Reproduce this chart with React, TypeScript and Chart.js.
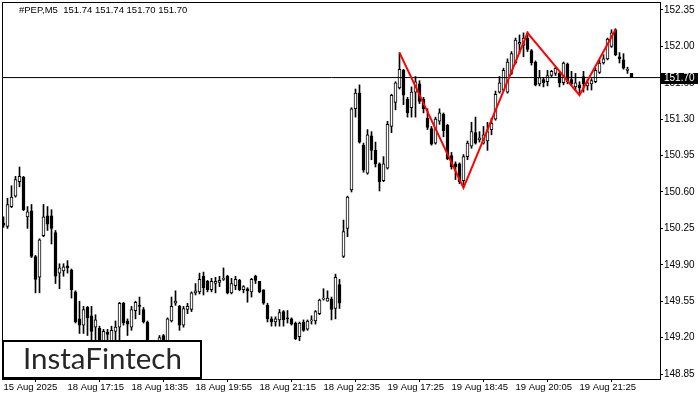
import React, { useEffect, useRef } from 'react';
import { Chart, registerables } from 'chart.js';

Chart.register(...registerables);

// ---- data (M5 candles) ----
const opens = [
  150.30, 150.27, 150.46, 150.56, 150.70, 150.74, 150.36, 150.42, 149.98, 149.78,
  150.18, 150.37, 150.37, 150.21, 149.82, 149.84, 149.89, 149.85, 149.64, 149.38,
  149.32, 149.49, 149.41, 149.30, 149.29, 149.10, 149.25, 149.12, 149.26, 149.30,
  149.53, 149.36, 149.30, 149.46, 149.51, 149.47, 149.35, 149.05, 149.02, 149.16,
  149.22, 149.15, 149.36, 149.53, 149.50, 149.32, 149.47, 149.47, 149.63, 149.64,
  149.79, 149.74, 149.66, 149.72, 149.73, 149.76, 149.79, 149.63, 149.70, 149.75,
  149.66, 149.67, 149.64, 149.79, 149.74, 149.66, 149.51, 149.38, 149.35, 149.37,
  149.45, 149.39, 149.38, 149.34, 149.21, 149.35, 149.28, 149.36, 149.36, 149.43,
  149.57, 149.55, 149.57, 149.48, 149.71, 149.98, 150.25, 150.62, 151.40, 151.55,
  151.05, 150.78, 151.14, 151.00, 150.87, 150.71, 150.83, 151.23, 151.46, 151.60,
  151.77, 151.49, 151.41, 151.56, 151.64, 151.49, 151.31, 151.21, 151.07, 151.28,
  151.35, 151.24, 150.95, 150.87, 150.87, 150.71, 150.94, 151.04, 151.17, 151.10,
  151.07, 151.09, 151.20, 151.30, 151.56, 151.58, 151.56, 151.74, 151.84, 152.02,
  152.01, 152.08, 151.96, 151.85, 151.64, 151.68, 151.66, 151.72, 151.74, 151.74,
  151.65, 151.83, 151.68, 151.61, 151.63, 151.71, 151.62, 151.64, 151.66, 151.75,
  151.84, 151.88, 152.00, 152.16, 151.90, 151.87, 151.77, 151.74,
];
const highs = [
  150.36, 150.54, 150.66, 150.75, 150.84, 150.75, 150.46, 150.48, 149.99, 150.15,
  150.48, 150.46, 150.43, 150.23, 149.91, 149.91, 149.94, 149.86, 149.65, 149.55,
  149.50, 149.50, 149.50, 149.42, 149.31, 149.28, 149.28, 149.31, 149.36, 149.54,
  149.54, 149.38, 149.50, 149.55, 149.59, 149.49, 149.36, 149.10, 149.08, 149.22,
  149.23, 149.39, 149.59, 149.65, 149.51, 149.50, 149.53, 149.64, 149.72, 149.82,
  149.83, 149.75, 149.77, 149.78, 149.79, 149.87, 149.80, 149.77, 149.79, 149.76,
  149.70, 149.68, 149.77, 149.80, 149.74, 149.66, 149.53, 149.40, 149.40, 149.47,
  149.46, 149.46, 149.39, 149.35, 149.35, 149.37, 149.37, 149.41, 149.46, 149.57,
  149.67, 149.65, 149.59, 149.81, 149.76, 150.33, 150.56, 151.41, 151.59, 151.63,
  151.07, 151.20, 151.18, 151.08, 150.88, 150.94, 151.28, 151.54, 151.66, 151.94,
  151.78, 151.51, 151.61, 151.71, 151.67, 151.51, 151.40, 151.23, 151.32, 151.40,
  151.36, 151.25, 150.98, 150.89, 150.88, 150.96, 151.09, 151.27, 151.32, 151.18,
  151.23, 151.27, 151.31, 151.57, 151.71, 151.79, 151.88, 151.95, 152.08, 152.11,
  152.13, 152.14, 151.97, 151.86, 151.77, 151.70, 151.77, 151.77, 151.80, 151.75,
  151.85, 151.84, 151.76, 151.74, 151.66, 151.76, 151.68, 151.69, 151.79, 151.87,
  151.92, 152.08, 152.16, 152.17, 151.94, 151.93, 151.80, 151.74,
];
const lows = [
  150.26, 150.25, 150.45, 150.55, 150.65, 150.42, 150.25, 149.97, 149.63, 149.63,
  150.17, 150.23, 150.10, 149.72, 149.67, 149.79, 149.82, 149.58, 149.34, 149.24,
  149.24, 149.22, 149.17, 149.17, 149.08, 149.06, 149.15, 149.10, 149.17, 149.18,
  149.32, 149.22, 149.27, 149.38, 149.42, 149.34, 149.02, 148.98, 148.96, 149.10,
  149.10, 149.12, 149.35, 149.51, 149.27, 149.30, 149.43, 149.45, 149.61, 149.62,
  149.61, 149.64, 149.64, 149.63, 149.69, 149.75, 149.62, 149.62, 149.66, 149.65,
  149.63, 149.54, 149.59, 149.72, 149.63, 149.52, 149.35, 149.31, 149.31, 149.31,
  149.31, 149.34, 149.32, 149.18, 149.17, 149.26, 149.27, 149.33, 149.33, 149.42,
  149.56, 149.55, 149.37, 149.38, 149.48, 149.97, 150.17, 150.60, 151.32, 151.07,
  150.79, 150.77, 150.91, 150.84, 150.61, 150.70, 150.82, 151.17, 151.39, 151.59,
  151.44, 151.32, 151.32, 151.32, 151.45, 151.36, 151.20, 151.05, 151.06, 151.25,
  151.13, 150.91, 150.82, 150.72, 150.68, 150.65, 150.91, 151.02, 151.06, 151.08,
  151.06, 151.00, 151.15, 151.29, 151.55, 151.57, 151.55, 151.73, 151.83, 151.93,
  151.90, 151.95, 151.82, 151.62, 151.62, 151.61, 151.62, 151.71, 151.72, 151.61,
  151.63, 151.64, 151.63, 151.58, 151.55, 151.56, 151.58, 151.58, 151.65, 151.74,
  151.83, 151.87, 151.99, 151.91, 151.84, 151.78, 151.74, 151.70,
];
const closes = [
  150.28, 150.48, 150.55, 150.72, 150.75, 150.43, 150.41, 149.98, 149.76, 150.14,
  150.36, 150.29, 150.25, 149.79, 149.87, 149.88, 149.87, 149.66, 149.35, 149.32,
  149.47, 149.39, 149.26, 149.37, 149.13, 149.26, 149.23, 149.27, 149.30, 149.53,
  149.34, 149.33, 149.47, 149.54, 149.50, 149.35, 149.05, 149.02, 149.06, 149.20,
  149.15, 149.38, 149.50, 149.55, 149.32, 149.48, 149.50, 149.63, 149.65, 149.76,
  149.68, 149.66, 149.74, 149.74, 149.75, 149.77, 149.63, 149.72, 149.76, 149.66,
  149.69, 149.65, 149.76, 149.75, 149.64, 149.53, 149.38, 149.35, 149.38, 149.44,
  149.37, 149.38, 149.33, 149.19, 149.34, 149.27, 149.36, 149.37, 149.45, 149.56,
  149.58, 149.58, 149.47, 149.78, 149.53, 150.22, 150.55, 151.40, 151.55, 151.08,
  150.81, 151.15, 151.00, 150.87, 150.70, 150.87, 151.25, 151.53, 151.65, 151.78,
  151.53, 151.36, 151.56, 151.66, 151.47, 151.40, 151.22, 151.06, 151.30, 151.36,
  151.19, 150.92, 150.84, 150.84, 150.70, 150.94, 151.07, 151.18, 151.07, 151.12,
  151.15, 151.18, 151.26, 151.54, 151.65, 151.77, 151.85, 151.93, 152.06, 152.04,
  152.08, 151.97, 151.84, 151.63, 151.70, 151.65, 151.72, 151.76, 151.79, 151.65,
  151.84, 151.66, 151.64, 151.65, 151.60, 151.64, 151.65, 151.67, 151.77, 151.84,
  151.88, 152.07, 152.13, 151.92, 151.88, 151.79, 151.78, 151.70,
];

const timeTickIndex = [0, 16, 32, 48, 64, 80, 96, 112, 128, 144];
const timeTickLabels = [
  '15 Aug 2025', '18 Aug 17:15', '18 Aug 18:35', '18 Aug 19:55', '18 Aug 21:15',
  '18 Aug 22:35', '19 Aug 17:25', '19 Aug 18:45', '19 Aug 20:05', '19 Aug 21:25',
];
const priceTicks = [148.85, 149.2, 149.55, 149.9, 150.25, 150.6, 150.95, 151.3, 151.65, 152.0, 152.35];

const patternIndex = [99, 115, 131, 144, 153];
const patternPrice = [151.94, 150.64, 152.13, 151.53, 152.16];

const lastPrice = 151.7;
const symbolTitle = '#PEP,M5  151.74 151.74 151.70 151.70';
const brandText = 'InstaFintech';

const X_MIN = -0.125;
const X_MAX = 164.125;
const Y_MIN = 148.802;
const Y_MAX = 152.417;

const FONT_FAMILY = '"Liberation Sans", Arial, sans-serif';

const overlayPlugin = {
  id: 'overlay',
  afterDraw(chart: any) {
    const { ctx, chartArea: a, scales } = chart;
    ctx.save();
    // plot frame
    ctx.strokeStyle = '#000';
    ctx.lineWidth = 1;
    ctx.strokeRect(a.left - 0.5, a.top - 0.5, a.right - a.left + 1, a.bottom - a.top + 1);

    // symbol title
    ctx.fillStyle = '#000';
    ctx.font = '9.5px ' + FONT_FAMILY;
    ctx.textBaseline = 'middle';
    ctx.textAlign = 'left';
    ctx.fillText(symbolTitle, 19, 10);

    // current price label
    const py = Math.round(scales.y.getPixelForValue(lastPrice));
    ctx.fillStyle = '#000';
    ctx.fillRect(a.right + 1, py - 5, 37, 11);
    ctx.fillStyle = '#fff';
    ctx.font = '10px ' + FONT_FAMILY;
    ctx.fillText(lastPrice.toFixed(2), a.right + 4, py + 0.5);

    // brand box
    ctx.fillStyle = '#fff';
    ctx.fillRect(3, 340, 198, 38);
    ctx.strokeStyle = '#000';
    ctx.lineWidth = 2;
    ctx.strokeRect(3, 341, 198, 37);
    ctx.font = '28px Lato';
    const w = ctx.measureText(brandText).width;
    const size = (28 * 159) / w;
    ctx.font = `${size}px Lato`;
    ctx.fillStyle = '#262626';
    ctx.textBaseline = 'alphabetic';
    ctx.fillText(brandText, 23, 369);
    ctx.restore();
  },
};

export default function App() {
  const canvasRef = useRef<HTMLCanvasElement | null>(null);

  useEffect(() => {
    document.body.style.margin = '0';
    const canvas = canvasRef.current;
    if (!canvas) return;

    const wicks = highs.map((h, i) => ({ x: i, y: [lows[i], h] }));
    const bodies = opens.map((o, i) => ({ x: i, y: [o, closes[i]] }));
    const bodyColors = opens.map((o, i) => (closes[i] >= o ? '#ffffff' : '#000000'));
    const pattern = patternIndex.map((x, i) => ({ x, y: patternPrice[i] }));
    const priceLine = [
      { x: X_MIN, y: lastPrice },
      { x: X_MAX, y: lastPrice },
    ];

    const chart = new Chart(canvas, {
      type: 'bar',
      data: {
        datasets: [
          {
            type: 'line',
            data: pattern,
            borderColor: '#ff0000',
            borderWidth: 2,
            pointRadius: 0,
            order: 0,
          } as any,
          {
            type: 'line',
            data: priceLine,
            borderColor: '#000000',
            borderWidth: 1,
            pointRadius: 0,
            order: 1,
          } as any,
          {
            type: 'bar',
            data: bodies,
            backgroundColor: bodyColors,
            borderColor: '#000000',
            borderWidth: 1,
            borderSkipped: false,
            barThickness: 3,
            grouped: false,
            minBarLength: 1,
            order: 2,
          } as any,
          {
            type: 'bar',
            data: wicks,
            backgroundColor: '#000000',
            borderWidth: 0,
            barThickness: 1,
            grouped: false,
            order: 3,
          } as any,
        ],
      },
      options: {
        responsive: false,
        animation: false,
        events: [],
        layout: { padding: { left: 3, top: 3, right: 0, bottom: 0 } },
        plugins: { legend: { display: false }, tooltip: { enabled: false }, title: { display: false } },
        scales: {
          x: {
            type: 'linear',
            min: X_MIN,
            max: X_MAX,
            offset: false,
            afterBuildTicks: (s: any) => {
              s.ticks = timeTickIndex.map((v) => ({ value: v }));
            },
            afterFit: (s: any) => {
              s.height = 21;
              s.paddingLeft = 0;
              s.paddingRight = 0;
            },
            ticks: {
              callback: (value: any) => {
                const k = timeTickIndex.indexOf(Number(value));
                return k >= 0 ? timeTickLabels[k] : '';
              },
              align: 'start',
              font: { family: FONT_FAMILY, size: 9.5 },
              color: '#000',
              padding: 0,
              maxRotation: 0,
              minRotation: 0,
              autoSkip: false,
            },
            grid: { display: true, drawOnChartArea: false, drawTicks: true, tickLength: 3, color: '#000' },
            border: { display: false },
          },
          y: {
            position: 'right',
            min: Y_MIN,
            max: Y_MAX,
            afterBuildTicks: (s: any) => {
              s.ticks = priceTicks.map((v) => ({ value: v }));
            },
            afterFit: (s: any) => {
              s.width = 40;
              s.paddingTop = 0;
              s.paddingBottom = 0;
            },
            ticks: {
              callback: (value: any) => Number(value).toFixed(2),
              font: { family: FONT_FAMILY, size: 10 },
              color: '#000',
              padding: 1,
            },
            grid: { display: true, drawOnChartArea: false, drawTicks: true, tickLength: 3, color: '#000' },
            border: { display: false },
          },
        },
      } as any,
      plugins: [overlayPlugin],
    });

    return () => chart.destroy();
  }, []);

  return (
    <div style={{ width: 700, height: 400, background: '#fff' }}>
      <canvas ref={canvasRef} width={700} height={400} style={{ display: 'block' }} />
    </div>
  );
}
